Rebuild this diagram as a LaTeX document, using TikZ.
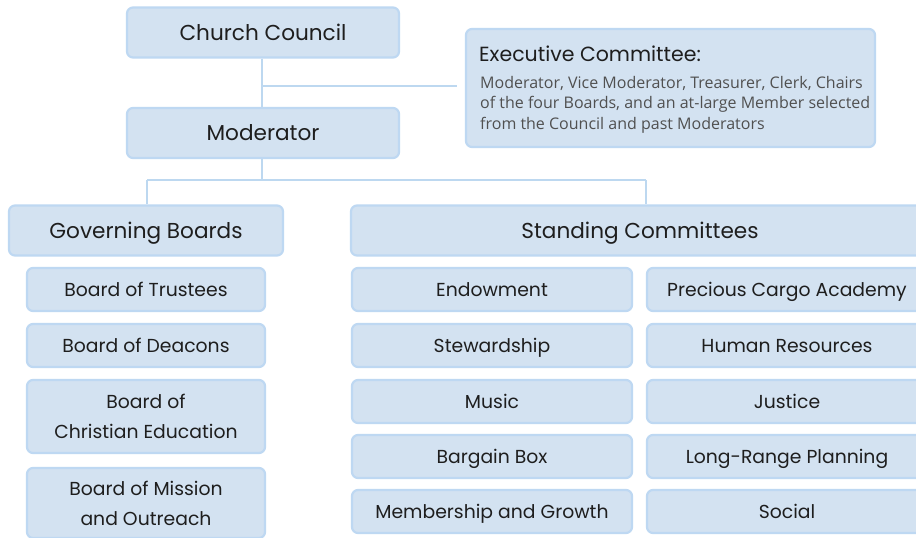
\documentclass[tikz,border=0pt]{standalone}
\usepackage{fontspec}
\setmainfont{Poppins}
\newfontfamily\bodyfont{Open Sans}
\definecolor{fillc}{RGB}{211,226,241}
\definecolor{bordc}{RGB}{190,216,242}
\definecolor{linec}{RGB}{189,216,240}
\definecolor{textc}{RGB}{30,30,30}
\definecolor{bodyc}{RGB}{80,80,80}
\tikzset{
  boxbase/.style={draw=bordc, line width=2.2pt, fill=fillc, rounded corners=6pt,
    inner sep=0pt, text=textc, align=center},
  bigbox/.style={boxbase, minimum height=50pt, font=\fontsize{21.6}{26}\selectfont,
    text height=15.1pt, text depth=0pt},
  smallbox/.style={boxbase, minimum height=43pt, font=\fontsize{18.8}{22}\selectfont,
    text height=13.1pt, text depth=0pt},
  twoline/.style={boxbase, font=\fontsize{18.8}{30}\selectfont},
  bodyline/.style={anchor=base west, inner sep=0pt, text=bodyc,
    font=\bodyfont\fontsize{16}{20}\selectfont},
  conn/.style={draw=linec, line width=2.6pt},
}
\begin{document}
\begin{tikzpicture}[x=1pt,y=-1pt]
\useasboundingbox (0,0) rectangle (916,538);
\clip (0,0) rectangle (916,538);
\fill[white] (0,0) rectangle (916,538);

\node[bigbox, minimum width=272pt] (cc) at (263,32.5) {Church Council};
\node[bigbox, minimum width=272pt] (mod) at (263,133) {Moderator};
\node[boxbase, minimum width=409pt, minimum height=118pt] (exec) at (670.5,88) {};
\node[bigbox, minimum width=274pt] (gov) at (146,230.5) {Governing Boards};
\node[bigbox, minimum width=578pt] (stand) at (640,230.5) {Standing Committees};

\coordinate (j1) at (262,86);
\coordinate (j1e) at (457,86);
\coordinate (j2) at (262,180);
\coordinate (jl) at (147,180);
\coordinate (jr) at (646,180);

\draw[conn] (cc.south -| j1) -- (mod.north -| j1);
\draw[conn] (j1) -- (j1e);
\draw[conn] (mod.south -| j2) -- (j2);
\draw[conn] (jl) -- (jr);
\draw[conn] (jl) -- (gov.north -| jl);
\draw[conn] (jr) -- (stand.north -| jr);

% executive committee text
\node[anchor=base west, inner sep=0pt, text=textc, font=\fontsize{20.5}{24}\selectfont]
  (exectitle) at (479,61.5) {Executive Committee:};
\node[bodyline] (el1) at (480,88) {Moderator, Vice Moderator, Treasurer, Clerk, Chairs};
\node[bodyline] (el2) at (480,108.5) {of the four Boards, and an at-large Member selected};
\node[bodyline] (el3) at (480,129) {from the Council and past Moderators};

% governing boards
\node[smallbox, minimum width=238pt] (b1) at (146,289.5) {Board of Trustees};
\node[smallbox, minimum width=238pt] (b2) at (146,345.5) {Board of Deacons};
\node[twoline, minimum width=238pt, minimum height=73pt] (b3) at (146,416.5) {Board of\\Christian Education};
\node[twoline, minimum width=238pt, minimum height=70pt] (b4) at (146,503) {Board of Mission\\and Outreach};

% standing committees, left column
\node[smallbox, minimum width=280pt] (s1) at (492,289.5) {Endowment};
\node[smallbox, minimum width=280pt] (s2) at (492,345.5) {Stewardship};
\node[smallbox, minimum width=280pt] (s3) at (492,401.5) {Music};
\node[smallbox, minimum width=280pt] (s4) at (492,456.5) {Bargain Box};
\node[smallbox, minimum width=280pt] (s5) at (492,511.5) {Membership and Growth};

% standing committees, right column
\node[smallbox, minimum width=280pt] (r1) at (787,289.5) {Precious Cargo Academy};
\node[smallbox, minimum width=280pt] (r2) at (787,345.5) {Human Resources};
\node[smallbox, minimum width=280pt] (r3) at (787,401.5) {Justice};
\node[smallbox, minimum width=280pt] (r4) at (787,456.5) {Long-Range Planning};
\node[smallbox, minimum width=280pt] (r5) at (787,511.5) {Social};
\end{tikzpicture}
\end{document}
